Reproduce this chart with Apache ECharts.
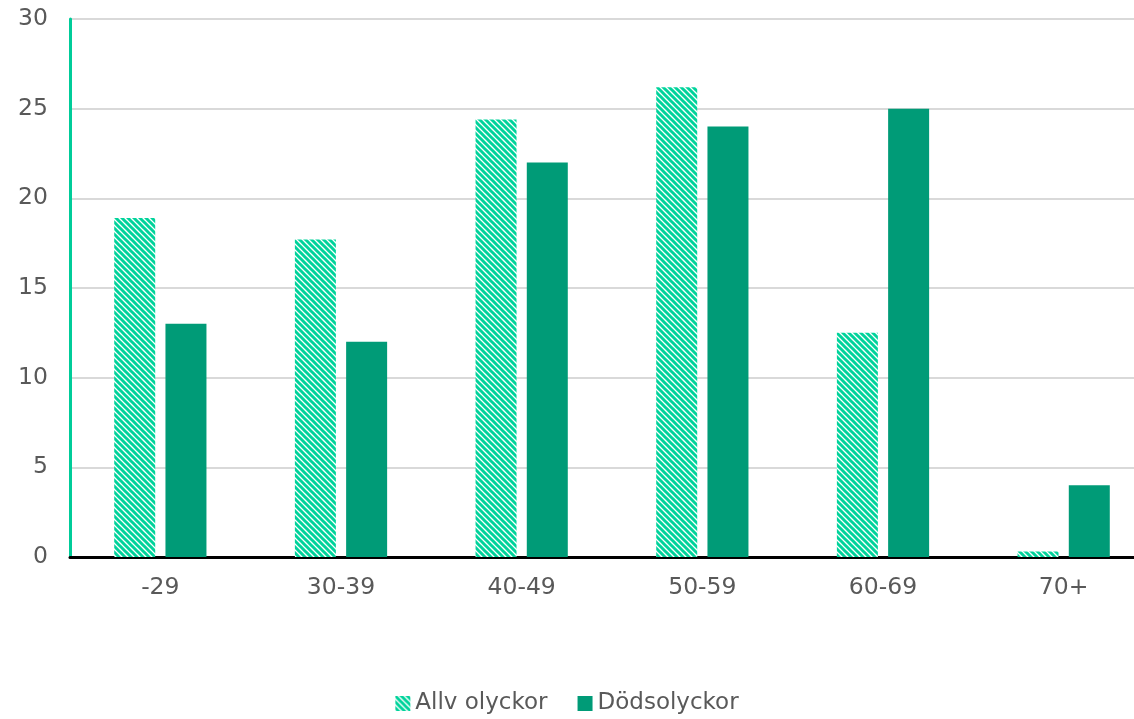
<!DOCTYPE html>
<html>
<head>
<meta charset="utf-8">
<script src="https://cdn.jsdelivr.net/npm/echarts@6/dist/echarts.min.js"></script>
<style>
  html, body { margin: 0; padding: 0; background: #fff; }
  #chart { width: 1134px; height: 719px; }
</style>
</head>
<body>
<div id="chart"></div>
<script>
var ageGroups = ["-29", "30-39", "40-49", "50-59", "60-69", "70+"];
var allAccidents = [18.9, 17.7, 24.4, 26.2, 12.5, 0.3];
var fatalAccidents = [13, 12, 22, 24, 25, 4];
var seriesNames = ["Allv olyckor", "Dödsolyckor"];

// diagonal stripe pattern for the hatched series
function stripes(color) {
  var c = document.createElement("canvas");
  c.width = 6;
  c.height = 6;
  var ctx = c.getContext("2d");
  ctx.fillStyle = "#fff";
  ctx.fillRect(0, 0, 6, 6);
  ctx.strokeStyle = color;
  ctx.lineWidth = 3;
  ctx.beginPath();
  ctx.moveTo(-3, -3); ctx.lineTo(9, 9);
  ctx.moveTo(-3, 3); ctx.lineTo(3, 9);
  ctx.moveTo(3, -3); ctx.lineTo(9, 3);
  ctx.stroke();
  return c;
}

var chart = echarts.init(document.getElementById("chart"));
var textColor = "#595959";
var font = "DejaVu Sans";

chart.setOption({
  animation: false,
  grid: { left: 70, width: 1084, top: 19, height: 538, outerBoundsMode: "none", containLabel: false },
  legend: {
    data: seriesNames,
    bottom: -1,
    left: "center",
    icon: "rect",
    itemWidth: 15,
    itemHeight: 15,
    itemGap: 30,
    textStyle: { color: textColor, fontSize: 23, fontFamily: font }
  },
  xAxis: {
    type: "category",
    data: ageGroups,
    axisLine: { lineStyle: { color: "#000", width: 3 } },
    axisTick: { show: false },
    axisLabel: { color: textColor, fontSize: 23.5, fontFamily: font, margin: 19 }
  },
  yAxis: {
    type: "value",
    min: 0,
    max: 30,
    interval: 5,
    axisLine: { show: true, lineStyle: { color: "#00cc99", width: 3 } },
    axisTick: { show: false },
    splitLine: { lineStyle: { color: "#d9d9d9", width: 2 } },
    axisLabel: { color: textColor, fontSize: 23.5, fontFamily: font, margin: 22 }
  },
  series: [
    {
      name: seriesNames[0],
      type: "bar",
      data: allAccidents,
      barWidth: 41,
      barGap: "25%",
      itemStyle: { color: { image: stripes("#00d39b"), repeat: "repeat" }, borderWidth: 0 }
    },
    {
      name: seriesNames[1],
      type: "bar",
      data: fatalAccidents,
      barWidth: 41,
      itemStyle: { color: "#009b77", borderWidth: 0 }
    }
  ]
});
</script>
</body>
</html>
